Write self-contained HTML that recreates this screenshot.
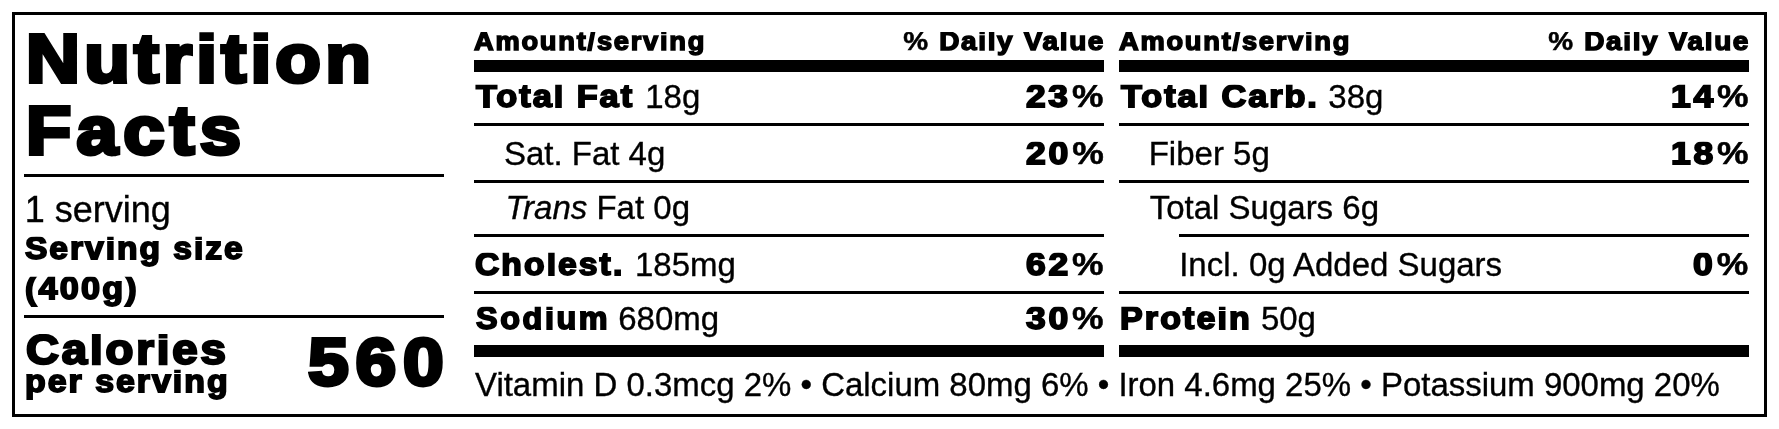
<!DOCTYPE html>
<html lang="en">
<head>
<meta charset="utf-8">
<title>Nutrition Facts</title>
<style>
html,body{margin:0;padding:0;background:#fff;}
body{width:1779px;height:429px;position:relative;overflow:hidden;font-family:"Liberation Sans",sans-serif;color:#000;will-change:transform;}
.b{position:absolute;background:#000;}
.t{position:absolute;white-space:nowrap;line-height:1;transform-origin:0 0;}
.r{font-weight:400;}
.k{font-weight:700;}
.p{-webkit-text-stroke:0.5px #000;margin-left:1.2px;}
i{font-style:italic;}
</style>
</head>
<body>
<div class="b" style="left:12px;top:12px;width:1755px;height:3px"></div>
<div class="b" style="left:12px;top:414px;width:1755px;height:3px"></div>
<div class="b" style="left:12px;top:12px;width:3px;height:405px"></div>
<div class="b" style="left:1764px;top:12px;width:3px;height:405px"></div>
<div class="b" style="left:24px;top:174px;width:420px;height:3px"></div>
<div class="b" style="left:24px;top:315px;width:420px;height:3px"></div>
<div class="b" style="left:474px;top:60px;width:630px;height:12px"></div>
<div class="b" style="left:474px;top:123px;width:630px;height:3px"></div>
<div class="b" style="left:474px;top:180px;width:630px;height:3px"></div>
<div class="b" style="left:474px;top:234px;width:630px;height:3px"></div>
<div class="b" style="left:474px;top:291px;width:630px;height:3px"></div>
<div class="b" style="left:474px;top:345px;width:630px;height:12px"></div>
<div class="b" style="left:1119px;top:60px;width:630px;height:12px"></div>
<div class="b" style="left:1119px;top:123px;width:630px;height:3px"></div>
<div class="b" style="left:1119px;top:180px;width:630px;height:3px"></div>
<div class="b" style="left:1179px;top:234px;width:570px;height:3px"></div>
<div class="b" style="left:1119px;top:291px;width:630px;height:3px"></div>
<div class="b" style="left:1119px;top:345px;width:630px;height:12px"></div>
<div class="t k" style="left:26.04px;top:24px;font-size:69.26px;transform:scaleX(1.0778);-webkit-text-stroke:3.89px #000;letter-spacing:3.93px;clip-path:inset(8.20px -9px -9px -9px);">Nutrition</div>
<div class="t k" style="left:26.05px;top:96px;font-size:69.26px;transform:scaleX(1.0714);-webkit-text-stroke:3.89px #000;letter-spacing:4.92px;clip-path:inset(8.20px -9px -9px -9px);">Facts</div>
<div class="t r" style="left:24.80px;top:192px;font-size:36.00px;-webkit-text-stroke:0.35px #000;">1 serving</div>
<div class="t k" style="left:25.40px;top:233px;font-size:31.75px;transform:scaleX(1.0572);-webkit-text-stroke:1.78px #000;letter-spacing:1.87px;clip-path:inset(3.76px -9px -9px -9px);">Serving size</div>
<div class="t k" style="left:25.19px;top:273px;font-size:31.75px;transform:scaleX(1.0761);-webkit-text-stroke:1.78px #000;letter-spacing:2.04px;clip-path:inset(3.76px -9px -9px -9px);">(400g)</div>
<div class="t k" style="left:25.76px;top:329px;font-size:42.33px;transform:scaleX(1.0773);-webkit-text-stroke:2.38px #000;letter-spacing:2.63px;clip-path:inset(5.01px -9px -9px -9px);">Calories</div>
<div class="t k" style="left:24.67px;top:366px;font-size:31.75px;transform:scaleX(1.0667);-webkit-text-stroke:1.78px #000;letter-spacing:1.88px;clip-path:inset(3.76px -9px -9px -9px);">per serving</div>
<div class="t k" style="left:307.60px;top:328px;font-size:67.34px;transform:scaleX(1.0873);-webkit-text-stroke:3.78px #000;letter-spacing:6.19px;clip-path:inset(7.98px -9px -9px -9px);">560</div>
<div class="t r" style="left:474.70px;top:368px;font-size:33.00px;transform:scaleX(0.9987);-webkit-text-stroke:0.35px #000;">Vitamin D 0.3mcg 2% &bull; Calcium 80mg 6% &bull; Iron 4.6mg 25% &bull; Potassium 900mg 20%</div>
<div class="t k" style="left:474.46px;top:29px;font-size:25.97px;transform:scaleX(1.0498);-webkit-text-stroke:1.46px #000;letter-spacing:1.68px;clip-path:inset(3.08px -9px -9px -9px);">Amount/serving</div>
<div class="t k" style="left:902.09px;top:29px;font-size:25.97px;transform:scaleX(1.0757);-webkit-text-stroke:1.46px #000;letter-spacing:1.55px;clip-path:inset(3.08px -9px -9px -9px);"><span class="p">%</span> Daily Value</div>
<div class="t k" style="left:1119.46px;top:29px;font-size:25.97px;transform:scaleX(1.0498);-webkit-text-stroke:1.46px #000;letter-spacing:1.68px;clip-path:inset(3.08px -9px -9px -9px);">Amount/serving</div>
<div class="t k" style="left:1547.09px;top:29px;font-size:25.97px;transform:scaleX(1.0757);-webkit-text-stroke:1.46px #000;letter-spacing:1.55px;clip-path:inset(3.08px -9px -9px -9px);"><span class="p">%</span> Daily Value</div>
<div class="t k" style="left:475.64px;top:81px;font-size:31.75px;transform:scaleX(1.0800);-webkit-text-stroke:1.78px #000;letter-spacing:1.82px;clip-path:inset(3.76px -9px -9px -9px);">Total Fat</div>
<div class="t r" style="left:645.20px;top:80px;font-size:33.00px;-webkit-text-stroke:0.35px #000;">18g</div>
<div class="t k" style="left:1026.12px;top:81px;font-size:31.75px;transform:scaleX(1.1131);-webkit-text-stroke:1.78px #000;letter-spacing:2.41px;clip-path:inset(3.76px -9px -9px -9px);">23<span class="p">%</span></div>
<div class="t r" style="left:503.90px;top:137px;font-size:33.00px;-webkit-text-stroke:0.35px #000;">Sat. Fat 4g</div>
<div class="t k" style="left:1025.72px;top:138px;font-size:31.75px;transform:scaleX(1.1189);-webkit-text-stroke:1.78px #000;letter-spacing:2.41px;clip-path:inset(3.76px -9px -9px -9px);">20<span class="p">%</span></div>
<div class="t r" style="left:505.40px;top:191px;font-size:33.00px;-webkit-text-stroke:0.35px #000;"><i>Trans</i> Fat 0g</div>
<div class="t k" style="left:474.97px;top:249px;font-size:31.75px;transform:scaleX(1.0596);-webkit-text-stroke:1.78px #000;letter-spacing:1.96px;clip-path:inset(3.76px -9px -9px -9px);">Cholest.</div>
<div class="t r" style="left:635.00px;top:248px;font-size:33.00px;-webkit-text-stroke:0.35px #000;">185mg</div>
<div class="t k" style="left:1025.92px;top:249px;font-size:31.75px;transform:scaleX(1.1160);-webkit-text-stroke:1.78px #000;letter-spacing:2.41px;clip-path:inset(3.76px -9px -9px -9px);">62<span class="p">%</span></div>
<div class="t k" style="left:475.50px;top:303px;font-size:31.75px;transform:scaleX(1.0183);-webkit-text-stroke:1.78px #000;letter-spacing:2.56px;clip-path:inset(3.76px -9px -9px -9px);">Sodium</div>
<div class="t r" style="left:618.20px;top:302px;font-size:33.00px;-webkit-text-stroke:0.35px #000;">680mg</div>
<div class="t k" style="left:1025.92px;top:303px;font-size:31.75px;transform:scaleX(1.1160);-webkit-text-stroke:1.78px #000;letter-spacing:2.41px;clip-path:inset(3.76px -9px -9px -9px);">30<span class="p">%</span></div>
<div class="t k" style="left:1120.64px;top:81px;font-size:31.75px;transform:scaleX(1.0789);-webkit-text-stroke:1.78px #000;letter-spacing:1.81px;clip-path:inset(3.76px -9px -9px -9px);">Total Carb.</div>
<div class="t r" style="left:1328.30px;top:80px;font-size:33.00px;-webkit-text-stroke:0.35px #000;">38g</div>
<div class="t k" style="left:1670.92px;top:81px;font-size:31.75px;transform:scaleX(1.1160);-webkit-text-stroke:1.78px #000;letter-spacing:2.41px;clip-path:inset(3.76px -9px -9px -9px);">14<span class="p">%</span></div>
<div class="t r" style="left:1148.70px;top:137px;font-size:33.00px;-webkit-text-stroke:0.35px #000;">Fiber 5g</div>
<div class="t k" style="left:1670.92px;top:138px;font-size:31.75px;transform:scaleX(1.1160);-webkit-text-stroke:1.78px #000;letter-spacing:2.41px;clip-path:inset(3.76px -9px -9px -9px);">18<span class="p">%</span></div>
<div class="t r" style="left:1149.70px;top:191px;font-size:33.00px;-webkit-text-stroke:0.35px #000;">Total Sugars 6g</div>
<div class="t r" style="left:1179.20px;top:248px;font-size:33.00px;-webkit-text-stroke:0.35px #000;">Incl. 0g Added Sugars</div>
<div class="t k" style="left:1693.42px;top:249px;font-size:31.75px;transform:scaleX(1.1160);-webkit-text-stroke:1.78px #000;letter-spacing:2.41px;clip-path:inset(3.76px -9px -9px -9px);">0<span class="p">%</span></div>
<div class="t k" style="left:1119.66px;top:303px;font-size:31.75px;transform:scaleX(1.0707);-webkit-text-stroke:1.78px #000;letter-spacing:1.98px;clip-path:inset(3.76px -9px -9px -9px);">Protein</div>
<div class="t r" style="left:1260.90px;top:302px;font-size:33.00px;-webkit-text-stroke:0.35px #000;">50g</div>
</body>
</html>
